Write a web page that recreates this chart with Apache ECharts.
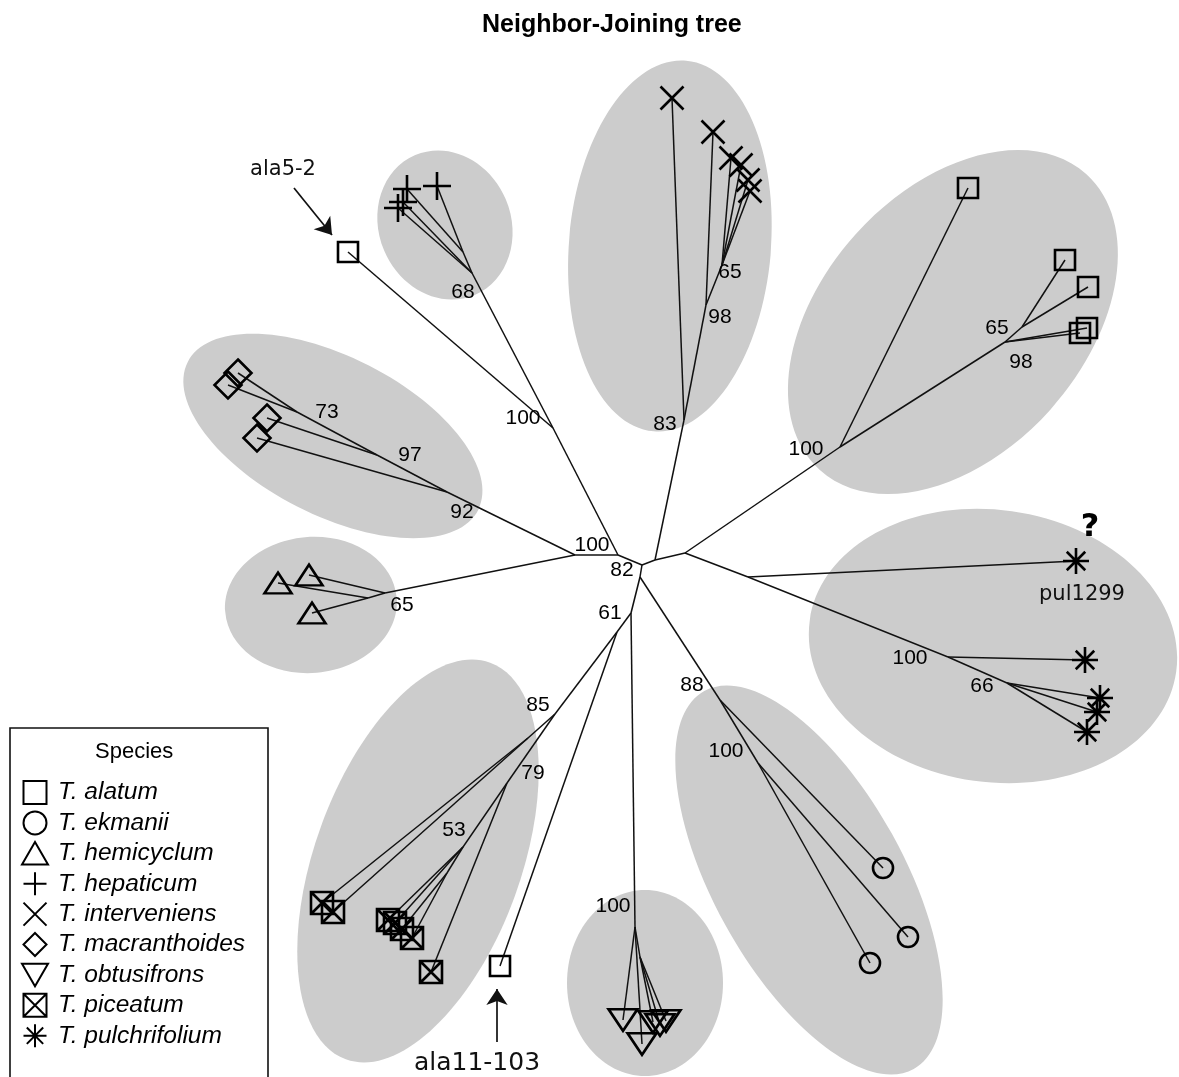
<!DOCTYPE html>
<html><head><meta charset="utf-8">
<script src="https://cdn.jsdelivr.net/npm/echarts@6/dist/echarts.min.js"></script>
<style>html,body{margin:0;padding:0;background:#fff}#c{width:1179px;height:1077px}</style>
</head><body><div id="c"></div>
<script>
// ---------------- DATA ----------------
const species = ['alatum','ekmanii','hemicyclum','hepaticum','interveniens','macranthoides','obtusifrons','piceatum','pulchrifolium'];
const speciesNames = ['T. alatum','T. ekmanii','T. hemicyclum','T. hepaticum','T. interveniens','T. macranthoides','T. obtusifrons','T. piceatum','T. pulchrifolium'];

// internal tree nodes: [id, parent, x, y] (tree layout units)
const internalNodes = [
  ['B', null, 642, 565], ['A', 'B', 618, 555], ['AL', 'A', 575, 555],
  ['C', 'B', 655, 560], ['D', 'C', 685, 553], ['B2', 'B', 640, 577],
  ['E', 'B2', 631, 613], ['F', 'E', 617, 632],
  ['hep100', 'A', 553, 428], ['hep68', 'hep100', 472, 273], ['hepS', 'hep68', 463, 252],
  ['int83', 'C', 684, 420], ['int98', 'int83', 706, 305], ['int65', 'int98', 722, 265],
  ['ala100', 'D', 840, 447], ['ala98', 'ala100', 1005, 342], ['ala65', 'ala98', 1022, 327],
  ['pulP', 'D', 748, 577], ['pul100', 'pulP', 948, 657], ['pul66', 'pul100', 1007, 683],
  ['mac92', 'AL', 447, 492], ['mac97', 'mac92', 377, 455], ['mac73', 'mac97', 297, 412],
  ['hem65', 'AL', 385, 593], ['hemS', 'hem65', 368, 598],
  ['pic85', 'F', 555, 714], ['picH', 'pic85', 528, 738], ['pic79', 'pic85', 507, 783],
  ['pic53', 'pic79', 463, 847], ['picG', 'pic53', 447, 873],
  ['obt100', 'E', 635, 927], ['obtS', 'obt100', 640, 957],
  ['ekm88', 'B2', 720, 700], ['ekm100', 'ekm88', 758, 763]
];

// tips: [species, parent, x, y]
const tips = [
  ['alatum','hep100',348,252], ['alatum','ala100',968,188], ['alatum','ala65',1065,260], ['alatum','ala65',1088,287],
  ['alatum','ala98',1087,328], ['alatum','ala98',1080,333], ['alatum','F',500,966],
  ['ekmanii','ekm88',883,868], ['ekmanii','ekm100',908,937], ['ekmanii','ekm100',870,963],
  ['hemicyclum','hem65',309,575], ['hemicyclum','hemS',278,583], ['hemicyclum','hemS',312,613],
  ['hepaticum','hepS',437,186], ['hepaticum','hepS',407,189], ['hepaticum','hep68',398,208], ['hepaticum','hep68',403,202],
  ['interveniens','int83',672,98], ['interveniens','int98',713,132], ['interveniens','int65',731,158],
  ['interveniens','int65',741,165], ['interveniens','int65',748,180], ['interveniens','int65',750,191],
  ['macranthoides','mac73',238,373], ['macranthoides','mac73',228,385], ['macranthoides','mac97',267,418], ['macranthoides','mac92',257,438],
  ['obtusifrons','obt100',623,1020], ['obtusifrons','obt100',642,1044], ['obtusifrons','obtS',653,1022],
  ['obtusifrons','obtS',660,1025], ['obtusifrons','obtS',666,1021],
  ['piceatum','picH',322,903], ['piceatum','picH',333,912], ['piceatum','pic53',388,920], ['piceatum','pic53',395,923],
  ['piceatum','picG',402,929], ['piceatum','picG',412,938], ['piceatum','pic79',431,972],
  ['pulchrifolium','pulP',1076,561], ['pulchrifolium','pul100',1085,660], ['pulchrifolium','pul66',1100,698],
  ['pulchrifolium','pul66',1097,712], ['pulchrifolium','pul66',1087,732]
];

// bootstrap support values: [x, y, value]
const bootstrap = [
  [463,292,'68'], [523,418,'100'], [730,272,'65'], [720,317,'98'], [665,424,'83'],
  [997,328,'65'], [1021,362,'98'], [806,449,'100'], [327,412,'73'], [410,455,'97'],
  [462,512,'92'], [592,545,'100'], [622,570,'82'], [402,605,'65'], [610,613,'61'],
  [538,705,'85'], [533,773,'79'], [454,830,'53'], [613,906,'100'], [692,685,'88'],
  [726,751,'100'], [910,658,'100'], [982,686,'66']
];

// clade ellipses: [cx, cy, semi-major, semi-minor, angle(deg, clockwise)]
const clades = [
  [445,225,76,66,67], [670,246,186,101,95], [953,322,199,131,-48],
  [333,436,163,79,27], [311,605,86,68,-5], [993,646,185,136,8],
  [418,861,211,103,-70], [645,983,93,78,90], [809,880,216,95,61]
];

// tip annotations
const tipLabels = [[283,170,'ala5-2',21], [477,1063,'ala11-103',25], [1082,595,'pul1299',21]];
const questionMark = [[1090,528,'?']];
const arrows = [[294,188,332,235], [497,1042,497,989]];

// ---------------- STYLE ----------------
const symbolStyles = {
  alatum:        {symbol:'path://M0,0H20V20H0Z', size:20},
  ekmanii:       {symbol:'circle', size:20},
  hemicyclum:    {symbol:'path://M10,0L20,17.3L0,17.3Z', size:[27,24]},
  hepaticum:     {symbol:'path://M10,0V20M0,10H20', size:28},
  interveniens:  {symbol:'path://M0,0L20,20M20,0L0,20', size:23},
  macranthoides: {symbol:'path://M10,0L20,10L10,20L0,10Z', size:27},
  obtusifrons:   {symbol:'path://M0,0H20L10,17.3Z', size:[29,25]},
  piceatum:      {symbol:'path://M0,0H20V20H0ZM0,0L20,20M20,0L0,20', size:22},
  pulchrifolium: {symbol:'path://M10,0V20M0,10H20M2.9,2.9L17.1,17.1M17.1,2.9L2.9,17.1', size:26}
};
const FONT = "'Liberation Sans', Arial, Helvetica, sans-serif";
const FONT2 = "'DejaVu Sans', Verdana, sans-serif";

// ---------------- BUILD ----------------
const pos = {};
internalNodes.forEach(n => { pos[n[0]] = [n[2], n[3]]; });
const edges = [];
internalNodes.forEach(n => { if (n[1]) edges.push({coords: [pos[n[1]], [n[2], n[3]]]}); });
tips.forEach(t => { edges.push({coords: [pos[t[1]], [t[2], t[3]]]}); });

const series = [];
series.push({
  type: 'custom', coordinateSystem: 'cartesian2d', z: 1, silent: true, clip: false,
  data: clades,
  renderItem: function (params, api) {
    const c = api.coord([api.value(0), api.value(1)]);
    const s = api.size([api.value(2), api.value(3)]);
    return {
      type: 'ellipse', x: c[0], y: c[1], rotation: -api.value(4) * Math.PI / 180,
      shape: {cx: 0, cy: 0, rx: s[0], ry: s[1]},
      style: {fill: '#cccccc'}
    };
  }
});
series.push({
  type: 'lines', coordinateSystem: 'cartesian2d', z: 2, silent: true,
  data: edges, lineStyle: {color: '#111', width: 1.5, opacity: 1}
});
series.push({
  type: 'lines', coordinateSystem: 'cartesian2d', z: 2, silent: true,
  symbol: ['none', 'arrow'], symbolSize: 16,
  data: arrows.map(a => ({coords: [[a[0], a[1]], [a[2], a[3]]]})),
  lineStyle: {color: '#111', width: 1.7, opacity: 1}
});
species.forEach((sp, i) => {
  const st = symbolStyles[sp];
  series.push({
    type: 'scatter', name: speciesNames[i], z: 3, silent: true,
    symbol: st.symbol, symbolSize: st.size, symbolKeepAspect: true,
    itemStyle: {color: 'rgba(0,0,0,0)', borderColor: '#000', borderWidth: 2.6, opacity: 1},
    data: tips.filter(t => t[0] === sp).map(t => [t[2], t[3]])
  });
});
series.push({
  type: 'scatter', z: 4, silent: true, symbolSize: 0, itemStyle: {opacity: 1},
  data: bootstrap,
  label: {show: true, position: 'inside', formatter: p => p.value[2],
          color: '#000', fontSize: 21, fontFamily: FONT}
});
series.push({
  type: 'scatter', z: 4, silent: true, symbolSize: 0, itemStyle: {opacity: 1},
  data: tipLabels.map(t => ({value: [t[0], t[1], t[2]], label: {fontSize: t[3]}})),
  label: {show: true, position: 'inside', formatter: p => p.value[2],
          color: '#111', fontFamily: FONT2}
});
series.push({
  type: 'scatter', z: 4, silent: true, symbolSize: 0, itemStyle: {opacity: 1},
  data: questionMark,
  label: {show: true, position: 'inside', formatter: p => p.value[2],
          color: '#000', fontSize: 32, fontWeight: 'bold', fontFamily: FONT2}
});

const chart = echarts.init(document.getElementById('c'), null, {renderer: 'canvas'});
chart.setOption({
  animation: false,
  backgroundColor: '#fff',
  title: [
    {text: 'Neighbor-Joining tree', left: 477, top: 8,
     textStyle: {fontFamily: FONT, fontSize: 25, fontWeight: 'bold', color: '#000'}},
    {text: 'Species', left: 90, top: 736, z: 20,
     textStyle: {fontFamily: FONT, fontSize: 22, fontWeight: 'normal', color: '#000'}}
  ],
  graphic: [{
    type: 'rect', z: 10, silent: true,
    shape: {x: 10, y: 728, width: 258, height: 400},
    style: {fill: '#fff', stroke: '#111', lineWidth: 1.6}
  }],
  grid: {left: 0, right: 0, top: 0, bottom: 0},
  xAxis: {type: 'value', min: 0, max: 1179, show: false},
  yAxis: {type: 'value', min: 0, max: 1077, inverse: true, show: false},
  legend: {
    data: speciesNames, orient: 'vertical', left: 10, top: 728, z: 20,
    padding: [52, 10, 0, 11], itemGap: 5.4, itemWidth: 26, itemHeight: 23,
    selectedMode: false,
    textStyle: {fontFamily: FONT, fontStyle: 'italic', fontSize: 24.5, color: '#000',
                lineHeight: 23, padding: [0, 0, 0, 5]}
  },
  series: series
});
</script>
</body></html>
